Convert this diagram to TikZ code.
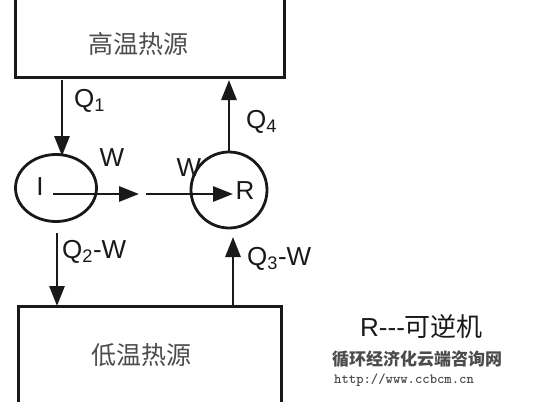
\documentclass[tikz,border=0pt]{standalone}
\usepackage{fontspec}
\setmainfont{Liberation Sans}
\newfontfamily\cjk{Noto Sans CJK SC}
\usetikzlibrary{arrows.meta,shapes.geometric}
\begin{document}
\begin{tikzpicture}[x=1pt,y=-1pt,
  wall/.style={line width=3pt,black!90},
  flow/.style={line width=2.8pt,black!90,-{Triangle[length=20pt,width=15pt]}},
  lbl/.style={font=\fontsize{26}{26}\selectfont,inner sep=0pt,text=black!90},
  cn/.style={font=\cjk\fontsize{25}{25}\selectfont,text=black!70,inner sep=0pt},
  eng/.style={draw,line width=2.8pt,black!90,inner sep=0pt}]
\useasboundingbox (0,0) rectangle (536,402);
% hot reservoir
\draw[wall] (15,0) -- (15,77) -- (284,77) -- (284,0);
\node[cn] (hot) at (138,44) {高温热源};
% cold reservoir
\draw[wall] (18,402) -- (18,306) -- (281,306) -- (281,402);
\node[cn] (cold) at (141,355) {低温热源};
\coordinate (hotbot1) at (62,80);
\coordinate (hotbot2) at (229,80);
\coordinate (coldtop1) at (57,306);
\coordinate (coldtop2) at (233,306);
% engines
\node[eng,ellipse,minimum width=81pt,minimum height=67pt] (I) at (56,188) {};
\node[lbl] at (40,187) {I};
\node[eng,circle,minimum size=76pt] (R) at (229,190) {};
\node[lbl] at (245,191) {R};
% flows
\draw[flow] (hotbot1) -- (62,156);
\node[lbl,anchor=west] (q1) at (74,101) {Q\textsubscript{1}};
\draw[flow] (R.north) -- (hotbot2);
\node[lbl,anchor=west] (q4) at (246,122) {Q\textsubscript{4}};
\draw[flow] (57,233) -- (coldtop1);
\node[lbl,anchor=west] (q2) at (62,252) {Q\textsubscript{2}-W};
\draw[flow] (coldtop2) -- (233,237);
\node[lbl,anchor=west] (q3) at (247,259) {Q\textsubscript{3}-W};
\draw[flow] (53,194) -- (139,194);
\draw[flow] (146,194) -- (233,194);
\node[lbl] (w1) at (112,158) {W};
\node[lbl] (w2) at (189,168) {W};
% legend
\node[font=\fontsize{26}{26}\selectfont,anchor=west,inner sep=0pt,text=black!90] (leg) at (360,327) {R-{}-{}-{\cjk 可逆机}};
\node[font=\cjk\bfseries\fontsize{17}{17}\selectfont,text=black!70,anchor=west,inner sep=0pt] (wm1) at (332,359) {循环经济化云端咨询网};
\node[font=\ttfamily\bfseries\fontsize{14}{14}\selectfont,text=black!70,anchor=west,inner sep=0pt] (wm2) at (334,380) {http://www.ccbcm.cn};
\end{tikzpicture}
\end{document}
